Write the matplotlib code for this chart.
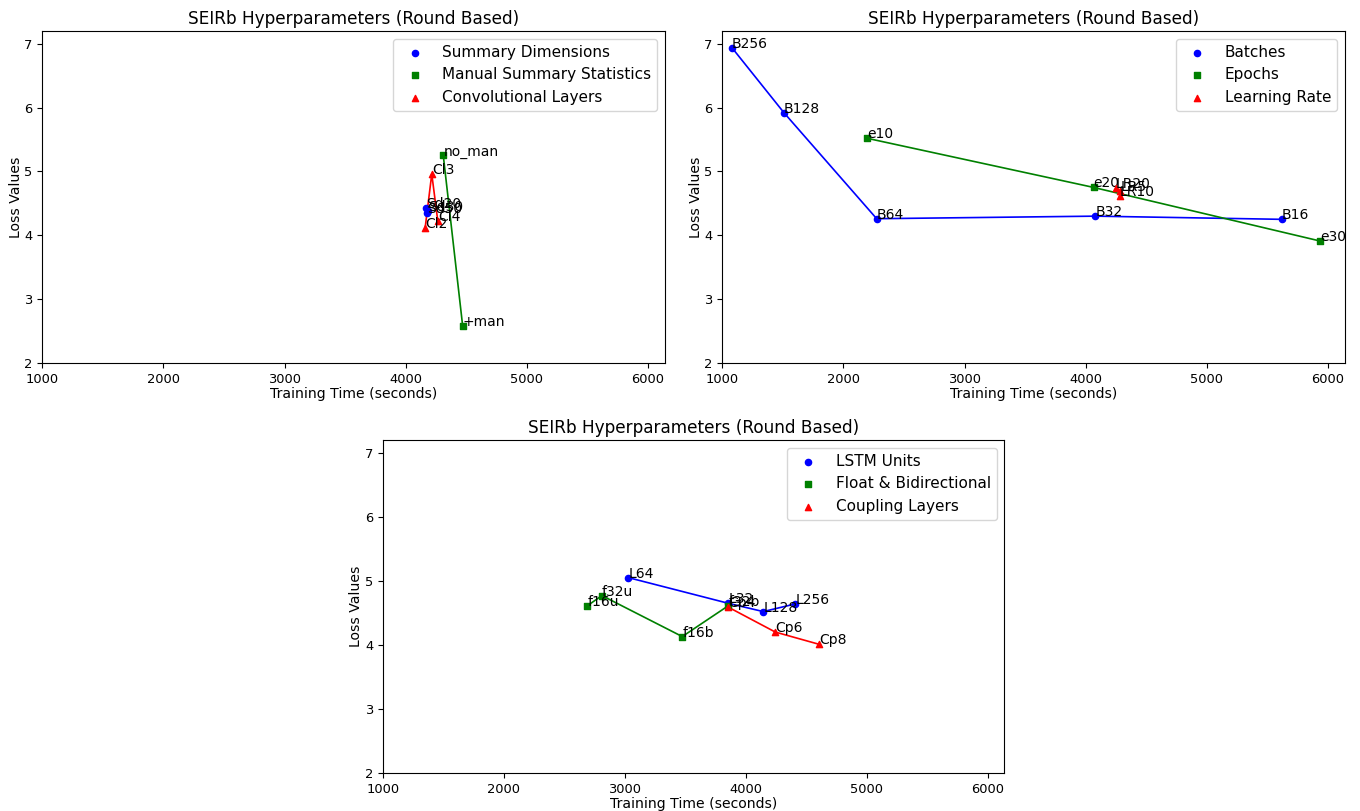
import matplotlib
matplotlib.use("Agg")
import matplotlib.pyplot as plt

# panel 1
sd_labels = ["Sd20", "Sd30", "Sd50"]
sd_time = [4165, 4185, 4175]
sd_loss = [4.42, 4.38, 4.35]
man_labels = ["no_man", "+man"]
man_time = [4310, 4470]
man_loss = [5.25, 2.58]
cl_labels = ["Cl2", "Cl3", "Cl4"]
cl_time = [4160, 4215, 4265]
cl_loss = [4.11, 4.96, 4.22]

# panel 2
b_labels = ["B256", "B128", "B64", "B32", "B16"]
b_time = [1080, 1510, 2275, 4080, 5620]
b_loss = [6.94, 5.92, 4.26, 4.30, 4.25]
e_labels = ["e10", "e20", "e30"]
e_time = [2195, 4065, 5935]
e_loss = [5.52, 4.75, 3.91]
lr_labels = ["LR20", "LR5", "LR10"]
lr_time = [4250, 4285, 4280]
lr_loss = [4.74, 4.69, 4.62]

# panel 3
l_labels = ["L64", "L32", "L128", "L256"]
l_time = [3030, 3855, 4145, 4410]
l_loss = [5.05, 4.65, 4.52, 4.64]
f_labels = ["f16u", "f32u", "f16b", "f32b"]
f_time = [2690, 2810, 3475, 3855]
f_loss = [4.61, 4.77, 4.13, 4.61]
cp_labels = ["Cp4", "Cp6", "Cp8"]
cp_time = [3855, 4245, 4605]
cp_loss = [4.59, 4.20, 4.01]

panels = [
    [(sd_labels, sd_time, sd_loss, "Summary Dimensions"),
     (man_labels, man_time, man_loss, "Manual Summary Statistics"),
     (cl_labels, cl_time, cl_loss, "Convolutional Layers")],
    [(b_labels, b_time, b_loss, "Batches"),
     (e_labels, e_time, e_loss, "Epochs"),
     (lr_labels, lr_time, lr_loss, "Learning Rate")],
    [(l_labels, l_time, l_loss, "LSTM Units"),
     (f_labels, f_time, f_loss, "Float & Bidirectional"),
     (cp_labels, cp_time, cp_loss, "Coupling Layers")],
]
styles = [("blue", "o"), ("green", "s"), ("red", "^")]

fig = plt.figure(figsize=(13.6, 8.11), dpi=100)
rects = [[0.031, 0.5524, 0.458, 0.4094],
         [0.531, 0.5524, 0.458, 0.4094],
         [0.2816, 0.0469, 0.457, 0.4106]]

for rect, groups in zip(rects, panels):
    ax = fig.add_axes(rect)
    for (labels, t, loss, name), (col, mk) in zip(groups, styles):
        ax.plot(t, loss, color=col, linewidth=1.2)
        ax.scatter(t, loss, color=col, marker=mk, s=20, label=name, zorder=3)
        for lab, x, y in zip(labels, t, loss):
            ax.text(x, y, lab, fontsize=10)
    ax.set_xlim(1000, 6140)
    ax.set_ylim(2, 7.2)
    ax.tick_params(labelsize=9.4, length=3.5)
    ax.set_title("SEIRb Hyperparameters (Round Based)", fontsize=12.2, pad=5)
    ax.set_xlabel("Training Time (seconds)", fontsize=10.1, labelpad=1)
    ax.set_ylabel("Loss Values", fontsize=10.1, labelpad=1)
    ax.legend(loc="upper right", fontsize=11)

fig.savefig("out.png", dpi=100)
